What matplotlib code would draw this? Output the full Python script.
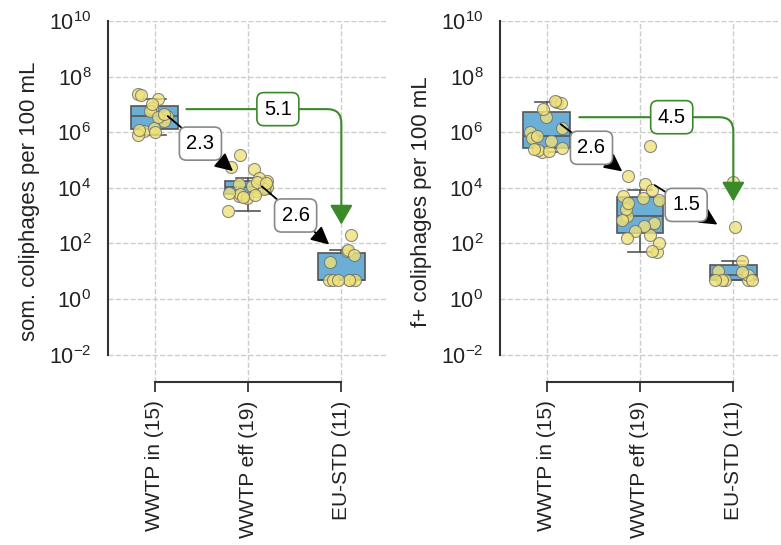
import numpy as np
import matplotlib
matplotlib.use("Agg")
import matplotlib.pyplot as plt
from matplotlib.ticker import FixedLocator, LogFormatterSciNotation, NullLocator

plt.rcParams["font.family"] = ["Liberation Sans", "DejaVu Sans"]
plt.rcParams["mathtext.default"] = "regular"

# categories (sample counts in the labels)
categories = ["WWTP in (15)", "WWTP eff (19)", "EU-STD (11)"]

# log10 concentrations, per 100 mL
som_in_log = [7.37, 6.05, 6.58, 7.19, 5.89, 6.88, 6.14, 7.35, 6.41, 6.08, 6.77, 6.00, 7.00, 6.53, 6.65]
som_eff_log = [4.03, 3.70, 4.67, 3.89, 4.13, 3.16, 4.26, 3.78, 5.18, 3.95, 4.07, 3.65, 4.37, 3.83,
               4.22, 3.68, 4.76, 3.76, 4.16]
som_std_log = [0.70, 1.72, 0.70, 2.32, 0.70, 1.35, 0.70, 1.78, 0.70, 1.60, 0.70]

fp_in_log = [7.10, 5.45, 6.00, 7.05, 5.30, 6.55, 5.80, 7.12, 5.36, 6.15, 5.87, 5.33, 6.85, 5.70, 5.38]
fp_eff_log = [2.98, 5.51, 2.30, 3.62, 1.69, 4.43, 2.75, 3.23, 2.02, 4.13, 2.62, 3.55, 1.72, 3.92,
              2.86, 2.45, 3.70, 2.20, 3.47]
fp_std_log = [0.70, 1.02, 0.70, 4.20, 0.85, 0.70, 1.36, 0.70, 2.58, 0.98, 0.70]

# log reductions between groups
som_reductions = ["2.3", "2.6", "5.1"]
fp_reductions = ["2.6", "1.5", "4.5"]

panels = [
    dict(data=[som_in_log, som_eff_log, som_std_log], labels=som_reductions,
         ylabel="som. coliphages per 100 mL",
         # (x, log10 y) of arrow start / tip
         steps=[((0.14, 6.58), (0.84, 4.60)), ((1.15, 4.05), (1.87, 1.96))],
         total=((0.34, 6.83), (2.0, 2.68), 1.32)),
    dict(data=[fp_in_log, fp_eff_log, fp_std_log], labels=fp_reductions,
         ylabel="f+ coliphages per 100 mL",
         steps=[((0.15, 6.29), (0.81, 4.59)), ((1.16, 4.09), (1.83, 2.68))],
         total=((0.35, 6.54), (2.0, 3.51), 1.34)),
]

box_color = "#6baed6"
line_color = "#555555"
dot_color = "#eee27a"
green = "#3a8a2a"

fig = plt.figure(figsize=(7.81, 5.45), dpi=100)
ax_left = [0.1383, 0.6402]
rng = np.random.default_rng(3)

for p, left in zip(panels, ax_left):
    ax = fig.add_axes([left, 0.2982, 0.3585, 0.6633])
    values = [10.0 ** np.array(v) for v in p["data"]]

    ax.set_yscale("log")
    ax.boxplot(values, positions=[0, 1, 2], widths=0.5, showfliers=False,
               patch_artist=True, whis=1.5,
               boxprops=dict(facecolor=box_color, edgecolor=line_color, linewidth=1.2),
               whiskerprops=dict(color=line_color, linewidth=1.2),
               capprops=dict(color=line_color, linewidth=1.2),
               medianprops=dict(color=line_color, linewidth=1.2),
               zorder=2)

    for i, v in enumerate(values):
        xs = i + rng.uniform(-0.22, 0.22, len(v))
        ax.scatter(xs, v, s=75, color=dot_color, edgecolor="#707070",
                   linewidth=0.8, alpha=0.8, zorder=3)

    # stepwise reductions
    for (a, b), lab in zip(p["steps"], p["labels"][:2]):
        ax.annotate("", xy=(b[0], 10 ** b[1]), xytext=(a[0], 10 ** a[1]),
                    arrowprops=dict(arrowstyle="-|>,head_length=0.6,head_width=0.3",
                                    color="black", lw=1.3, shrinkA=0, shrinkB=0,
                                    mutation_scale=18), zorder=4)
        mx = (a[0] + b[0]) / 2
        my = 10 ** ((a[1] + b[1]) / 2)
        ax.text(mx, my, lab, ha="center", va="center", fontsize=14.5, zorder=5,
                bbox=dict(boxstyle="round,pad=0.35", fc="white", ec="#888888", lw=1.2))

    # overall reduction
    a, b, lx = p["total"]
    ax.annotate("", xy=(b[0], 10 ** b[1]), xytext=(a[0], 10 ** a[1]),
                arrowprops=dict(arrowstyle="-|>,head_length=0.6,head_width=0.35",
                                connectionstyle="angle,angleA=0,angleB=90,rad=14",
                                color=green, lw=1.5, shrinkA=0, shrinkB=0,
                                mutation_scale=20), zorder=4)
    ax.text(lx, 10 ** a[1], p["labels"][2], ha="center", va="center", fontsize=14.5, zorder=5,
            bbox=dict(boxstyle="round,pad=0.35", fc="white", ec=green, lw=1.2))

    ax.set_xlim(-0.5, 2.5)
    ax.set_ylim(1e-3, 1e10)
    ax.yaxis.set_major_locator(FixedLocator(10.0 ** np.arange(-2, 11, 2)))
    ax.yaxis.set_major_formatter(LogFormatterSciNotation())
    ax.yaxis.set_minor_locator(NullLocator())
    ax.set_xticks([0, 1, 2])
    ax.set_xticklabels(categories, rotation=90, fontsize=15)
    ax.tick_params(axis="y", labelsize=15.5, length=0, pad=12, colors="#222222")
    ax.tick_params(axis="x", length=7, width=1.3, color="#333333", pad=6, labelcolor="#222222")
    ax.set_ylabel(p["ylabel"], fontsize=16, color="#222222", labelpad=6)

    ax.grid(True, linestyle="--", color="#cccccc", linewidth=1.0, zorder=0)
    ax.set_axisbelow(True)
    for s in ["top", "right"]:
        ax.spines[s].set_visible(False)
    ax.spines["left"].set_bounds(1e-2, 1e10)
    ax.spines["bottom"].set_bounds(0, 2)
    for s in ["left", "bottom"]:
        ax.spines[s].set_color("#333333")
        ax.spines[s].set_linewidth(1.5)

fig.savefig("out.png", dpi=100)
